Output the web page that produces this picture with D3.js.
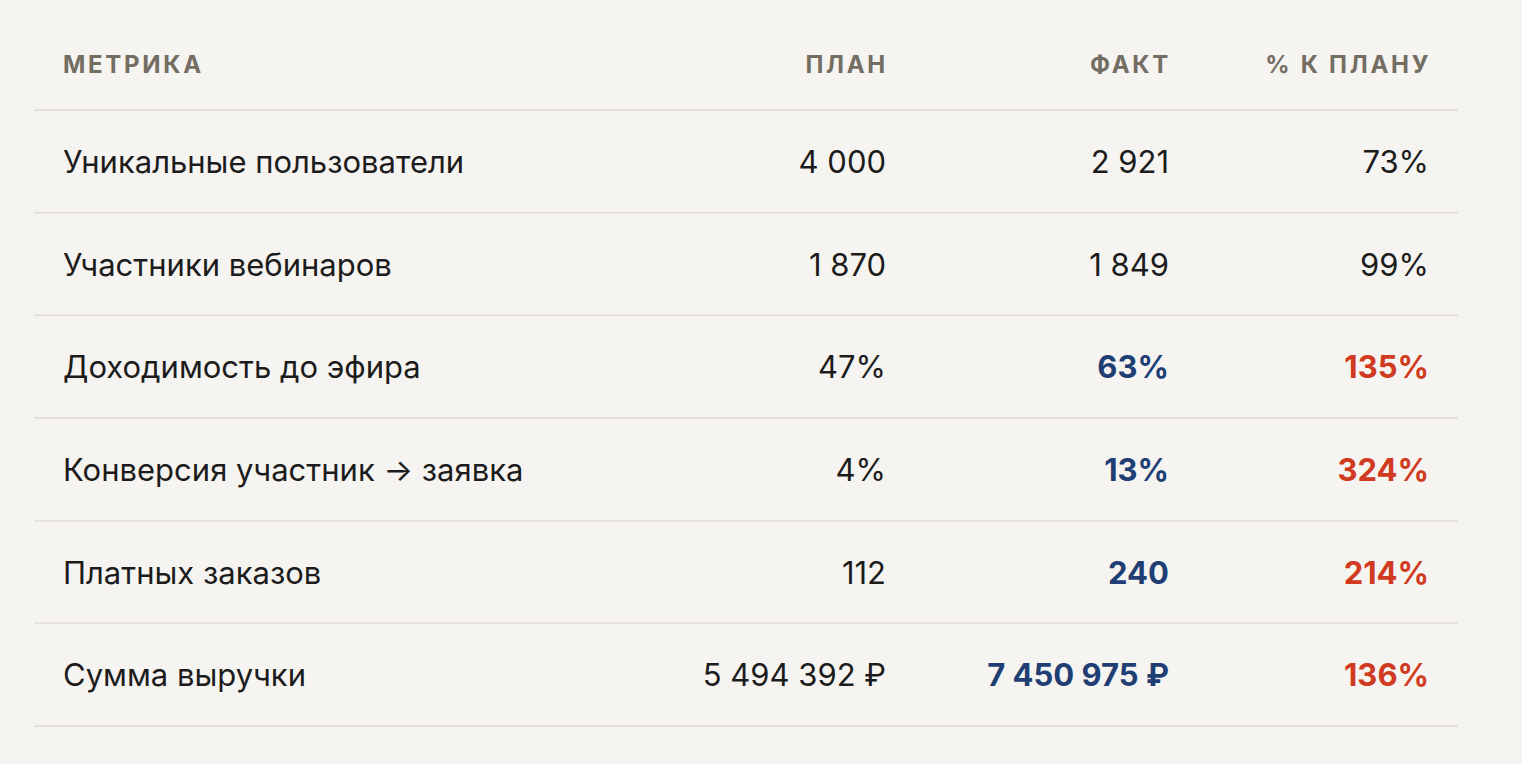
<!DOCTYPE html>
<html><head><meta charset="utf-8">
<script src="https://cdn.jsdelivr.net/npm/d3@7"></script>
<style>
html,body{margin:0;padding:0;background:#f6f4f1;}
svg{display:block;}
</style></head>
<body>
<svg id="c" width="1522" height="764"></svg>
<script>
const headers = ["МЕТРИКА", "ПЛАН", "ФАКТ", "% К ПЛАНУ"];
const metrics = ["Уникальные пользователи", "Участники вебинаров", "Доходимость до эфира", "Конверсия участник → заявка", "Платных заказов", "Сумма выручки"];
const plan = ["4 000", "1 870", "47%", "4%", "112", "5 494 392 ₽"];
const fact = ["2 921", "1 849", "63%", "13%", "240", "7 450 975 ₽"];
const pct = ["73%", "99%", "135%", "324%", "214%", "136%"];
const highlight = [false, false, true, true, true, true];

const svg = d3.select("#c");
const W = 1522, H = 764;
const left = 34, right = 1458;
const colX = d3.scaleOrdinal().domain(headers).range([63, 886, 1169, 1429]);
const y = d3.scaleBand().domain(d3.range(metrics.length)).range([110, 726]);
const FONT = "Inter, 'Noto Sans', sans-serif";

svg.append("rect").attr("width", W).attr("height", H).attr("fill", "#f6f4f1");

// header
svg.selectAll("text.h").data(headers).join("text")
  .attr("class", "h")
  .attr("x", (d, i) => colX(d) + (i === 0 ? 0 : 2))
  .attr("y", 73)
  .attr("text-anchor", (d, i) => i === 0 ? "start" : "end")
  .attr("font-family", FONT)
  .attr("font-size", 24)
  .attr("font-weight", 700)
  .attr("letter-spacing", "2.7px")
  .attr("fill", "#736d62")
  .text(d => d);

// lines
const lines = [110].concat(d3.range(metrics.length).map(i => y(i) + y.bandwidth()));
svg.selectAll("line.r").data(lines).join("line")
  .attr("x1", left).attr("x2", right)
  .attr("y1", d => d).attr("y2", d => d)
  .attr("stroke", "#e3e0dc").attr("stroke-width", 2);

const rows = svg.selectAll("g.row").data(metrics).join("g")
  .attr("transform", (d, i) => `translate(0,${y(i) + y.bandwidth() / 2 + 11.5})`);

const FS = 31;
rows.append("text").attr("x", colX(headers[0]))
  .attr("font-family", FONT).attr("font-size", FS).attr("fill", "#1c1c1c")
  .text(d => d);
rows.append("text").attr("x", colX(headers[1])).attr("text-anchor", "end")
  .attr("font-family", FONT).attr("font-size", FS).attr("fill", "#1c1c1c")
  .text((d, i) => plan[i]);
rows.append("text").attr("x", colX(headers[2])).attr("text-anchor", "end")
  .attr("font-family", FONT).attr("font-size", FS)
  .attr("font-weight", (d, i) => highlight[i] ? 700 : 400)
  .attr("fill", (d, i) => highlight[i] ? "#1f3f74" : "#1c1c1c")
  .text((d, i) => fact[i]);
rows.append("text").attr("x", colX(headers[3])).attr("text-anchor", "end")
  .attr("font-family", FONT).attr("font-size", FS)
  .attr("font-weight", (d, i) => highlight[i] ? 700 : 400)
  .attr("fill", (d, i) => highlight[i] ? "#d03a20" : "#1c1c1c")
  .text((d, i) => pct[i]);
</script>
</body></html>
